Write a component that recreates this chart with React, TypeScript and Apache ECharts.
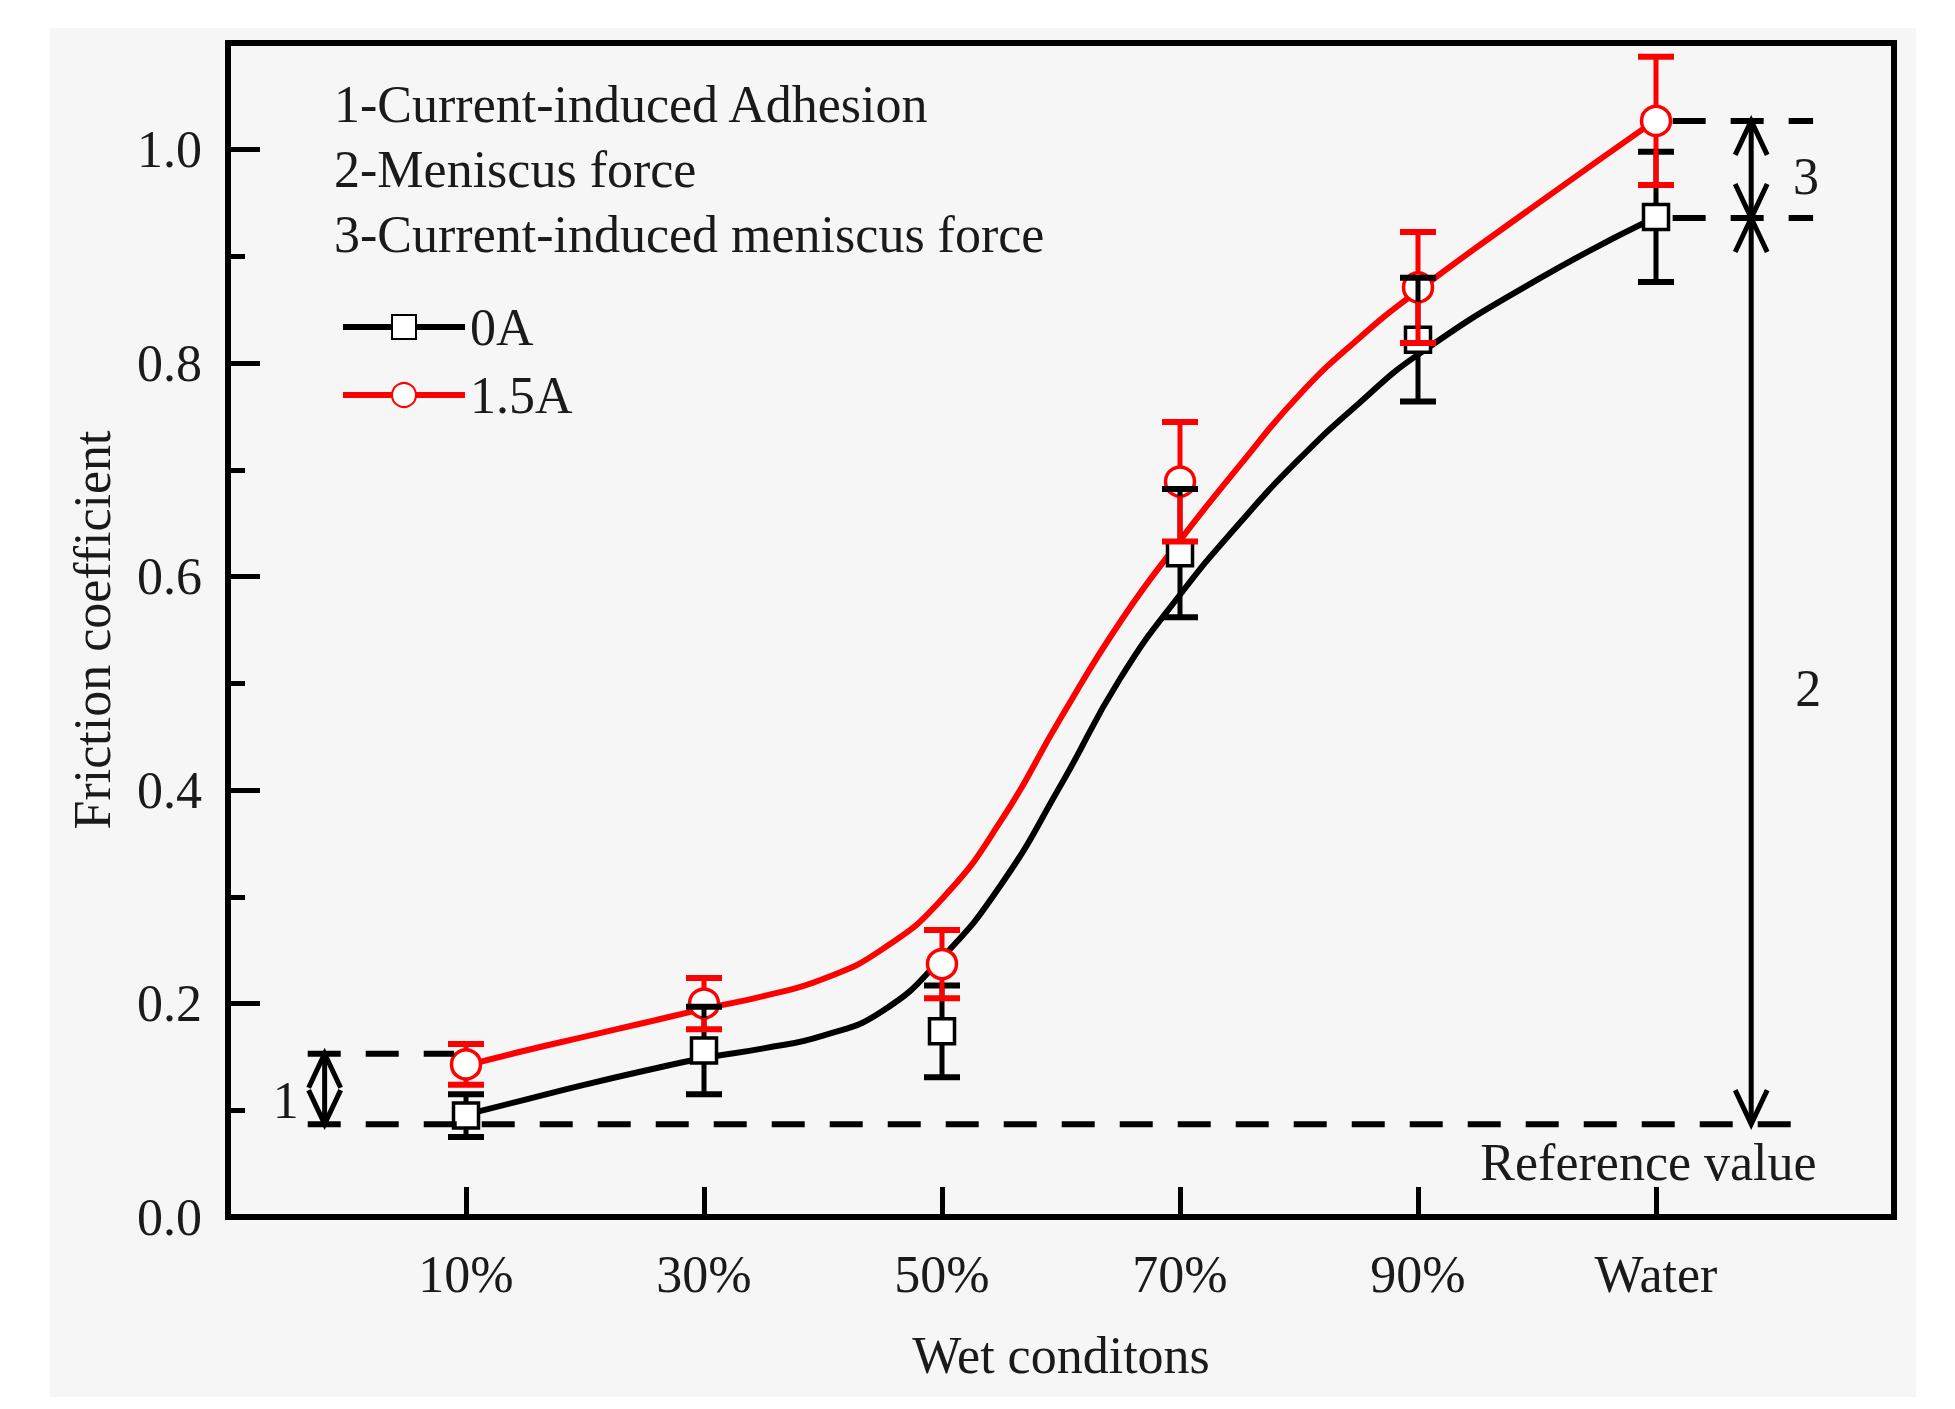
import React, { useEffect, useRef } from 'react';
import * as echarts from 'echarts';

// ---------- data ----------
const categories = ['10%', '30%', '50%', '70%', '90%', 'Water'];
const categoryX = [1, 2, 3, 4, 5, 6];

const mean0A = [0.095, 0.156, 0.174, 0.622, 0.822, 0.937];
const err0A = [0.020, 0.041, 0.043, 0.060, 0.058, 0.061];
const mean15A = [0.143, 0.200, 0.237, 0.689, 0.871, 1.027];
const err15A = [0.019, 0.024, 0.032, 0.056, 0.052, 0.060];

// fitted (smoothed) curves
const fitX = [1, 1.25, 1.5, 1.75, 2, 2.25, 2.5, 2.75, 3, 3.25, 3.5, 3.75, 4, 4.25, 4.5, 4.75, 5, 5.5, 6];
const fit0A = [0.096, 0.110, 0.124, 0.137, 0.149, 0.158, 0.170, 0.193, 0.243, 0.312, 0.405, 0.505, 0.583, 0.650, 0.710, 0.762, 0.808, 0.878, 0.937];
const fit15A = [0.142, 0.156, 0.169, 0.182, 0.195, 0.207, 0.223, 0.251, 0.298, 0.372, 0.468, 0.558, 0.634, 0.704, 0.770, 0.823, 0.868, 0.949, 1.028];

// annotation levels: [xStart, xEnd, y]
const dashedSegments = [
  [0.335, 0.95, 0.153],
  [0.335, 6.66, 0.087],
  [6.07, 6.66, 0.936],
  [6.07, 6.66, 1.027],
];
// double arrows: [x, yLow, yHigh]
const arrows = [
  [0.406, 0.087, 0.153],
  [6.40, 0.936, 1.027],
  [6.40, 0.087, 0.936],
];
const arrowLabelText = ['1', '3', '2'];
const arrowLabelPos = [
  [0.243, 0.109],
  [6.63, 0.975],
  [6.64, 0.495],
];
const referenceText = 'Reference value';
const referencePos = [6.675, 0.051];

const notes = ['1-Current-induced Adhesion', '2-Meniscus force', '3-Current-induced meniscus force'];

const FONT = 'Liberation Serif';
const TXT = '#1a1a1a';
const RED = '#ff0000';

function errorBarSeries(name: string, means: number[], errs: number[], color: string, half: number) {
  return {
    type: 'custom',
    name,
    z: 4,
    data: means.map((m, i) => [categoryX[i], m, errs[i]]),
    encode: { x: 0, y: 1 },
    renderItem: (params: any, api: any) => {
      const x = api.value(0);
      const y = api.value(1);
      const e = api.value(2);
      const c = api.coord([x, y]);
      const t = api.coord([x, y + e]);
      const b = api.coord([x, y - e]);
      const cap = 18;
      const st = { stroke: color, lineWidth: 5 };
      const cst = { stroke: color, lineWidth: 6 };
      return {
        type: 'group',
        children: [
          { type: 'line', shape: { x1: c[0], y1: c[1] - half, x2: c[0], y2: t[1] }, style: st },
          { type: 'line', shape: { x1: c[0], y1: c[1] + half, x2: c[0], y2: b[1] }, style: st },
          { type: 'line', shape: { x1: c[0] - cap, y1: t[1], x2: c[0] + cap, y2: t[1] }, style: cst },
          { type: 'line', shape: { x1: c[0] - cap, y1: b[1], x2: c[0] + cap, y2: b[1] }, style: cst },
        ],
      };
    },
  };
}

export default function App() {
  const ref = useRef<HTMLDivElement>(null);
  useEffect(() => {
    document.body.style.margin = '0';
    const chart = echarts.init(ref.current!, null, { renderer: 'svg' });
    const option: any = {
      animation: false,
      backgroundColor: '#ffffff',
      textStyle: { fontFamily: FONT },
      grid: {
        left: 228, right: 61, top: 43, bottom: 192,
        show: true, borderColor: '#000', borderWidth: 6,
      },
      legend: {
        data: ['0A', '1.5A'],
        orient: 'vertical',
        left: 340,
        top: 301,
        padding: 0,
        itemWidth: 122,
        itemHeight: 30,
        itemGap: 16,
        lineStyle: { width: 6 },
        textStyle: { fontFamily: FONT, fontSize: 52, color: TXT },
      },
      xAxis: {
        type: 'value', min: 0, max: 7, interval: 1,
        name: 'Wet conditons', nameLocation: 'middle', nameGap: 112,
        nameTextStyle: { fontFamily: FONT, fontSize: 52, color: TXT },
        axisLine: { show: true, lineStyle: { color: '#000', width: 6 } },
        axisTick: { show: true, inside: true, length: 30, lineStyle: { color: '#000', width: 5 } },
        axisLabel: {
          margin: 31, fontFamily: FONT, fontSize: 52, color: TXT,
          formatter: (v: number) => {
            const i = categoryX.indexOf(Math.round(v));
            return i >= 0 ? categories[i] : '';
          },
        },
        splitLine: { show: false },
      },
      yAxis: [
        {
          type: 'value', min: 0, max: 1.1, interval: 0.2,
          name: 'Friction coefficient', nameLocation: 'middle', nameGap: 110,
          nameTextStyle: { fontFamily: FONT, fontSize: 52, color: TXT },
          axisLine: { show: true, lineStyle: { color: '#000', width: 6 } },
          axisTick: { show: true, inside: true, length: 32, lineStyle: { color: '#000', width: 5 } },
          axisLabel: {
            margin: 26, fontFamily: FONT, fontSize: 52, color: TXT,
            formatter: (v: number) => (v > 1.05 ? '' : v.toFixed(1)),
          },
          splitLine: { show: false },
        },
        {
          type: 'value', min: 0, max: 1.1, interval: 0.1, position: 'left',
          axisLine: { show: false },
          axisTick: { show: true, inside: true, length: 17, lineStyle: { color: '#000', width: 5 } },
          axisLabel: { show: false },
          splitLine: { show: false },
        },
      ],
      graphic: [
        { type: 'rect', z: -10, silent: true, shape: { x: 50, y: 28, width: 1866, height: 1369 }, style: { fill: '#f6f6f6' } },
        ...notes.map((t, i) => ({
          type: 'text', z: 10, x: 334, y: 104 + i * 65,
          style: { text: t, fontFamily: FONT, fontSize: 52, fill: TXT, verticalAlign: 'middle', align: 'left' },
        })),
      ],
      series: [
        {
          type: 'line', name: '0A', z: 2, smooth: 0.5,
          symbol: 'emptyRect', showSymbol: false,
          data: fitX.map((x, i) => [x, fit0A[i]]),
          lineStyle: { color: '#000', width: 6 }, itemStyle: { color: '#000' },
        },
        {
          type: 'line', name: '1.5A', z: 2, smooth: 0.5,
          symbol: 'emptyCircle', showSymbol: false,
          data: fitX.map((x, i) => [x, fit15A[i]]),
          lineStyle: { color: RED, width: 6 }, itemStyle: { color: RED },
        },
        {
          type: 'scatter', name: '0A points', z: 3, symbol: 'rect', symbolSize: 25,
          data: mean0A.map((m, i) => [categoryX[i], m]),
          itemStyle: { color: '#ffffff', borderColor: '#000', borderWidth: 3.5, opacity: 1 },
        },
        {
          type: 'scatter', name: '1.5A points', z: 3, symbol: 'circle', symbolSize: 29,
          data: mean15A.map((m, i) => [categoryX[i], m]),
          itemStyle: { color: '#ffffff', borderColor: RED, borderWidth: 3.5, opacity: 1 },
        },
        errorBarSeries('0A err', mean0A, err0A, '#000', 12.5),
        errorBarSeries('1.5A err', mean15A, err15A, RED, 14.5),
        {
          type: 'custom', name: 'dashed', z: 5,
          data: dashedSegments,
          encode: { x: [0, 1], y: 2 },
          renderItem: (params: any, api: any) => {
            const a = api.coord([api.value(0), api.value(2)]);
            const b = api.coord([api.value(1), api.value(2)]);
            return {
              type: 'line',
              shape: { x1: a[0], y1: a[1], x2: b[0], y2: b[1] },
              style: { stroke: '#000', lineWidth: 6, lineDash: [33, 25] },
            };
          },
        },
        {
          type: 'custom', name: 'arrows', z: 5,
          data: arrows,
          encode: { x: 0, y: [1, 2] },
          renderItem: (params: any, api: any) => {
            const lo = api.coord([api.value(0), api.value(1)]);
            const hi = api.coord([api.value(0), api.value(2)]);
            const x = lo[0];
            const hl = 34;
            const hw = 16;
            const st = { stroke: '#000', lineWidth: 5, fill: null };
            return {
              type: 'group',
              children: [
                { type: 'line', shape: { x1: x, y1: lo[1], x2: x, y2: hi[1] }, style: st },
                { type: 'polyline', shape: { points: [[x - hw, hi[1] + hl], [x, hi[1]], [x + hw, hi[1] + hl]] }, style: st },
                { type: 'polyline', shape: { points: [[x - hw, lo[1] - hl], [x, lo[1]], [x + hw, lo[1] - hl]] }, style: st },
              ],
            };
          },
        },
        {
          type: 'custom', name: 'labels', z: 6,
          data: arrowLabelPos,
          encode: { x: 0, y: 1 },
          renderItem: (params: any, api: any) => {
            const p = api.coord([api.value(0), api.value(1)]);
            return {
              type: 'text', x: p[0], y: p[1],
              style: {
                text: arrowLabelText[params.dataIndex], fontFamily: FONT, fontSize: 52, fill: TXT,
                align: 'center', verticalAlign: 'middle',
              },
            };
          },
        },
        {
          type: 'custom', name: 'reference', z: 6,
          data: [referencePos],
          encode: { x: 0, y: 1 },
          renderItem: (params: any, api: any) => {
            const p = api.coord([api.value(0), api.value(1)]);
            return {
              type: 'text', x: p[0], y: p[1],
              style: {
                text: referenceText, fontFamily: FONT, fontSize: 52, fill: TXT,
                align: 'right', verticalAlign: 'middle',
              },
            };
          },
        },
      ],
    };
    chart.setOption(option);
    return () => chart.dispose();
  }, []);
  return <div ref={ref} style={{ width: 1955, height: 1409 }} />;
}
